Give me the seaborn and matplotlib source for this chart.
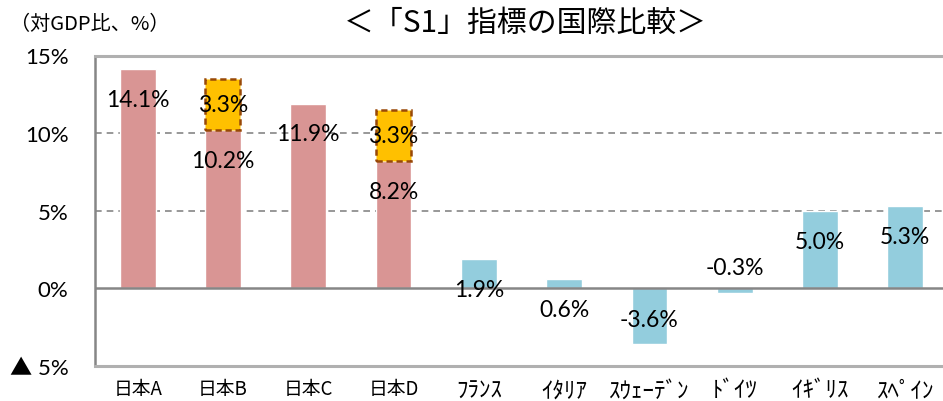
import matplotlib
matplotlib.use("Agg")
import matplotlib.pyplot as plt
import seaborn as sns
import pandas as pd
import numpy as np

categories = ["日本A", "日本B", "日本C", "日本D", "ﾌﾗﾝｽ", "ｲﾀﾘｱ", "ｽｳｪｰﾃﾞﾝ", "ﾄﾞｲﾂ", "ｲｷﾞﾘｽ", "ｽﾍﾟｲﾝ"]
values = [14.1, 10.2, 11.9, 8.2, 1.9, 0.6, -3.6, -0.3, 5.0, 5.3]
group = ["jp", "jp", "jp", "jp", "f", "f", "f", "f", "f", "f"]
extra_cats = ["日本B", "日本D"]
extra_vals = [3.3, 3.3]
yticks = [-5, 0, 5, 10, 15]
ytick_labels = ["▲ 5%", "0%", "5%", "10%", "15%"]

df = pd.DataFrame({"cat": categories, "val": values, "grp": group})

sns.set_theme(style="white")
plt.rcParams["font.family"] = ["Noto Sans CJK JP", "DejaVu Sans"]
plt.rcParams["text.color"] = "black"
plt.rcParams["xtick.color"] = "black"
plt.rcParams["ytick.color"] = "black"
plt.rcParams["xtick.labelcolor"] = "black"
plt.rcParams["ytick.labelcolor"] = "black"

W, H = 943, 402
fig = plt.figure(figsize=(W / 100, H / 100), dpi=100)
left, right, top, bottom = 95, 948, 56.5, 367
ax = fig.add_axes([left / W, (H - bottom) / H, (right - left) / W, (bottom - top) / H])

pink = "#D99594"
blue = "#93CDDD"
yellow = "#FFC000"
brown = "#984807"
grey = "#868686"

# gridlines
for g in [5, 10]:
    ax.axhline(g, color=grey, lw=1.2, ls=(0, (4, 3)), zorder=0)

sns.barplot(data=df, x="cat", y="val", hue="grp", palette={"jp": pink, "f": blue},
            order=categories, dodge=False, width=0.42, legend=False, ax=ax,
            saturation=1, zorder=2)

# stacked yellow parts
pos = [categories.index(c) for c in extra_cats]
bases = [values[i] for i in pos]
ax.bar(pos, extra_vals, bottom=bases, width=0.41, color=yellow, edgecolor=brown,
       linewidth=1.8, linestyle=(0, (2.5, 1.5)), zorder=3)

ax.axhline(0, color=grey, lw=1.8, zorder=4)

ax.set_ylim(-5, 15)
ax.set_xlim(-0.5, 9.5)
ax.set_yticks(yticks)
ax.set_yticklabels(ytick_labels, fontfamily=["Lato", "Noto Sans CJK JP"], fontsize=16)
ax.tick_params(axis="y", length=0, pad=19)
ax.tick_params(axis="x", length=0, pad=9, labelsize=13.5)
for lab in ax.get_xticklabels():
    if not lab.get_text().startswith("日本"):
        lab.set_fontsize(16.5)
ax.set_xlabel("")
ax.set_ylabel("")

ax.spines["right"].set_visible(False)
ax.spines["left"].set_color(grey)
ax.spines["left"].set_linewidth(1.8)
for s in ["top", "bottom"]:
    ax.spines[s].set_color("#B0B0B0")
    ax.spines[s].set_linewidth(2.2)
    ax.spines[s].set_linestyle((0, (3, 1)))

# labels
lab_font = dict(fontfamily=["Lato", "DejaVu Sans"], fontsize=16.5,
                ha="center", va="center", color="black", zorder=6)
for i, v in enumerate(values):
    if v >= 0:
        ly = v - 1.95
    elif v < -1:
        ly = -2.0
    else:
        ly = 1.35
    ax.text(i, ly, f"{v:.1f}%", **lab_font)
for p, b, e in zip(pos, bases, extra_vals):
    ax.text(p, b + e / 2, f"{e:.1f}%", **lab_font)

fig.text(10 / W, 1 - 24 / H, "（対GDP比、%）", fontsize=14.5, va="center", ha="left")
fig.text(525 / W, 1 - 23 / H, "＜「S1」指標の国際比較＞", fontsize=21.5, va="center", ha="center")

fig.savefig("out.png", dpi=100)
